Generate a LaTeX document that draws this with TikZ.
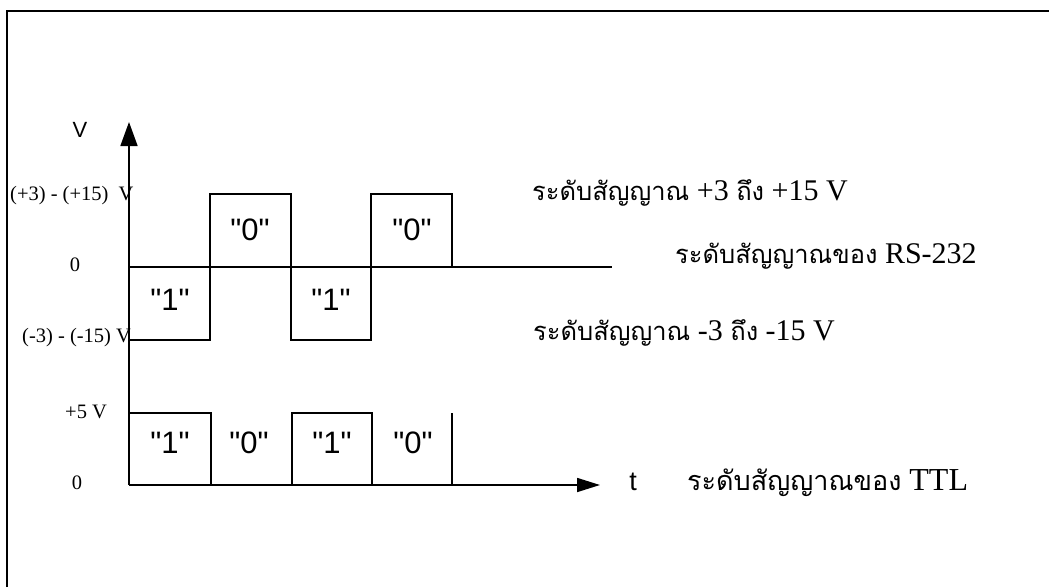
\documentclass[tikz,border=0pt]{standalone}
\usepackage{fontspec}
\setmainfont{Liberation Serif}
\newfontfamily\thaifont[Script=Thai]{Loma}
\newfontfamily\arialfont{Liberation Sans}
\usetikzlibrary{arrows.meta}
\tikzset{
  ln/.style={line width=1.7pt, line cap=butt, line join=miter},
  bit/.style={font=\arialfont\fontsize{31}{31}\selectfont, inner sep=0pt},
  lvl/.style={font=\fontsize{20.5}{20.5}\selectfont, inner sep=0pt},
  desc/.style={font=\fontsize{32}{32}\selectfont, inner sep=0pt, anchor=west},
  descs/.style={font=\fontsize{30}{30}\selectfont, inner sep=0pt, anchor=west},
}
\newcommand{\thtxt}[1]{{\thaifont\fontsize{27}{27}\selectfont #1}}
\newcommand{\thtxts}[1]{{\thaifont\fontsize{25.5}{25.5}\selectfont #1}}
\begin{document}
\begin{tikzpicture}[x=1pt,y=-1pt]
\useasboundingbox (0,0) rectangle (1049,587);
% frame
\draw[ln] (7,587) -- (7,11) -- (1049,11);
% coordinates
\coordinate (o) at (129,485);
\coordinate (ytop) at (129,122);
\coordinate (xend) at (600,485);
% axes
\draw[ln, -{Triangle[length=24pt,width=17pt]}] (o) -- (ytop);
\draw[ln, -{Triangle[length=23pt,width=14pt]}] (o) -- (xend);
\node[font=\arialfont\fontsize{22}{22}\selectfont, inner sep=0pt] (vlab) at (80,130) {V};
\node[font=\arialfont\fontsize{27}{27}\selectfont, inner sep=0pt] (tlab) at (633,482) {t};
% RS-232 waveform
\draw[ln] (129,267) -- (612,267);
\draw[ln] (129,267) -- (129,340) -- (210,340) -- (210,194) -- (291,194) -- (291,340) -- (371,340) -- (371,194) -- (452,194) -- (452,267);
\node[bit] (r1) at (170,300) {"1"};
\node[bit] (r2) at (250,230) {"0"};
\node[bit] (r3) at (331,300) {"1"};
\node[bit] (r4) at (412,230) {"0"};
% TTL waveform
\draw[ln] (129,413) -- (211,413) -- (211,485);
\draw[ln] (292,485) -- (292,413) -- (372,413) -- (372,485);
\draw[ln] (452,413) -- (452,485);
\node[bit] (t1) at (170,443) {"1"};
\node[bit] (t2) at (249,443) {"0"};
\node[bit] (t3) at (332,443) {"1"};
\node[bit] (t4) at (413,443) {"0"};
% left level labels
\node[lvl, anchor=west] (l1) at (10,196) {(+3) - (+15) \ V};
\node[lvl] (l2) at (75,265) {0};
\node[lvl, anchor=west] (l3) at (22,338) {(-3) - (-15) V};
\node[lvl, anchor=west] (l4) at (65,412) {+5 V};
\node[lvl] (l5) at (77,483) {0};
% right descriptions
\node[descs] (d1) at (532,193) {\thtxts{ระดับสัญญาณ} +3 \thtxts{ถึง} +15 V};
\node[descs] (d2) at (675,256) {\thtxts{ระดับสัญญาณของ} RS-232};
\node[descs] (d3) at (533,333) {\thtxts{ระดับสัญญาณ} -3 \thtxts{ถึง} -15 V};
\node[desc] (d4) at (687,483) {\thtxt{ระดับสัญญาณของ} TTL};
\end{tikzpicture}
\end{document}
